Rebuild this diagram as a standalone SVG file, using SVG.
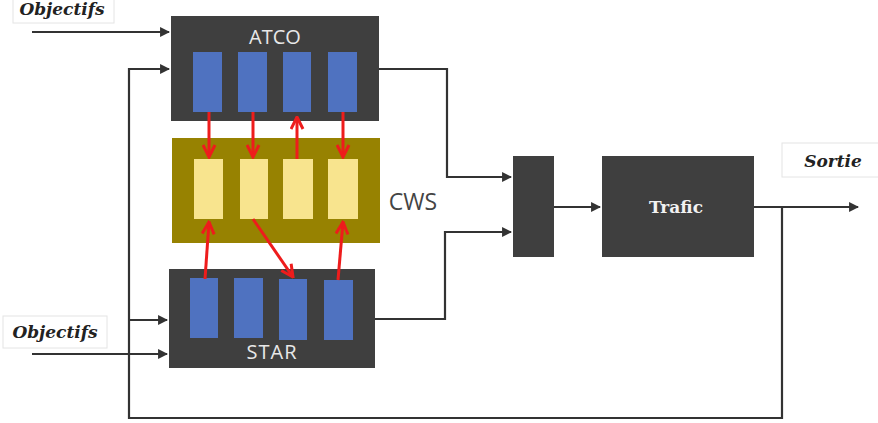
<svg xmlns="http://www.w3.org/2000/svg" width="878" height="423" viewBox="0 0 878 423">
  <style>
    .dark { fill: #3f3f3f; }
    .slot { fill: #4f72c0; }
    .cell { fill: #f8e48e; }
    .ws { fill: #978201; }
    .lbl { fill: #ffffff; stroke: #e4e4e4; stroke-width: 1; }
    .obj { font-family: "DejaVu Serif", "Liberation Serif", serif; font-weight: bold; font-style: italic; font-size: 17px; fill: #222; }
    .title { font-family: "Open Sans", "Liberation Sans", sans-serif; font-size: 20px; fill: #e8e8e8; }
    .wire { fill: none; stroke: #333; stroke-width: 2.2; }
    .link { fill: none; stroke: #ee1c1c; stroke-width: 3; }
  </style>
  <defs>
    <marker id="tip" viewBox="0 0 10 10" refX="9" refY="5" markerWidth="4.5" markerHeight="4.5" orient="auto" markerUnits="strokeWidth">
      <path d="M0,0 L10,5 L0,10 z" fill="#333"/>
    </marker>
    <marker id="redtip" viewBox="0 0 10 10" refX="9" refY="5" markerWidth="5" markerHeight="5" orient="auto" markerUnits="strokeWidth">
      <path d="M1,1 L9,5 L1,9" fill="none" stroke="#ee1c1c" stroke-width="2" stroke-linejoin="miter"/>
    </marker>
  </defs>
  <rect width="878" height="423" fill="#ffffff"/>

  <!-- goal labels -->
  <g id="objectifs-top">
    <rect class="lbl" x="13" y="-4" width="101" height="27"/>
    <text class="obj" x="62" y="15" text-anchor="middle">Objectifs</text>
  </g>
  <g id="objectifs-bottom">
    <rect class="lbl" x="3" y="316" width="104" height="32"/>
    <text class="obj" x="55" y="338" text-anchor="middle">Objectifs</text>
  </g>
  <g id="sortie">
    <rect class="lbl" x="782" y="143" width="100" height="34"/>
    <text class="obj" x="833" y="167" text-anchor="middle">Sortie</text>
  </g>

  <!-- controller (ATCO) -->
  <g id="atco">
    <rect class="dark" x="171" y="16" width="208" height="105"/>
    <text class="title" x="275" y="44" text-anchor="middle">ATCO</text>
    <rect class="slot" x="193" y="52" width="29" height="60"/>
    <rect class="slot" x="238" y="52" width="29" height="60"/>
    <rect class="slot" x="283" y="52" width="28" height="60"/>
    <rect class="slot" x="328" y="52" width="29" height="60"/>
  </g>

  <!-- shared workspace -->
  <g id="cws">
    <rect class="ws" x="172" y="138" width="208" height="105"/>
    <rect class="cell" x="194" y="159" width="29" height="60"/>
    <rect class="cell" x="240" y="159" width="28" height="60"/>
    <rect class="cell" x="283" y="159" width="30" height="60"/>
    <rect class="cell" x="328" y="159" width="30" height="60"/>
    <text x="413" y="210" text-anchor="middle" font-family="Open Sans, Liberation Sans, sans-serif" font-size="23" fill="#444">CWS</text>
  </g>

  <!-- automated agent (STAR) -->
  <g id="star">
    <rect class="dark" x="169" y="269" width="206" height="99"/>
    <rect class="slot" x="190" y="278" width="28" height="60"/>
    <rect class="slot" x="234" y="278" width="29" height="60"/>
    <rect class="slot" x="279" y="279" width="28" height="61"/>
    <rect class="slot" x="324" y="280" width="29" height="60"/>
    <text class="title" x="272" y="359" text-anchor="middle" letter-spacing="1">STAR</text>
  </g>

  <!-- combiner -->
  <g id="mux">
    <rect class="dark" x="513" y="156" width="41" height="101"/>
  </g>

  <!-- traffic -->
  <g id="trafic">
    <rect class="dark" x="602" y="156" width="152" height="101"/>
    <text x="676" y="213" text-anchor="middle" font-family="DejaVu Serif, Liberation Serif, serif" font-weight="bold" font-size="17" fill="#f2f2f2">Trafic</text>
  </g>

  <!-- connectors -->
  <g id="connectors">
    <path class="wire" d="M32,32 H169" marker-end="url(#tip)"/>
    <path class="wire" d="M32,354 H167" marker-end="url(#tip)"/>
    <path class="wire" d="M782,207 V418 H129 V69 H169" marker-end="url(#tip)"/>
    <path class="wire" d="M129,320 H167" marker-end="url(#tip)"/>
    <path class="wire" d="M379,69 H447 V177 H511" marker-end="url(#tip)"/>
    <path class="wire" d="M375,319 H445 V232 H511" marker-end="url(#tip)"/>
    <path class="wire" d="M554,207 H600" marker-end="url(#tip)"/>
    <path class="wire" d="M754,207 H858" marker-end="url(#tip)"/>

    <path class="link" d="M209,112 V157" marker-end="url(#redtip)"/>
    <path class="link" d="M253,112 V157" marker-end="url(#redtip)"/>
    <path class="link" d="M297,159 V117" marker-end="url(#redtip)"/>
    <path class="link" d="M343,112 V157" marker-end="url(#redtip)"/>
    <path class="link" d="M205,279 L209,222" marker-end="url(#redtip)"/>
    <path class="link" d="M338,280 L343,222" marker-end="url(#redtip)"/>
    <path class="link" d="M253,219 L293,277" marker-end="url(#redtip)"/>
  </g>
</svg>
